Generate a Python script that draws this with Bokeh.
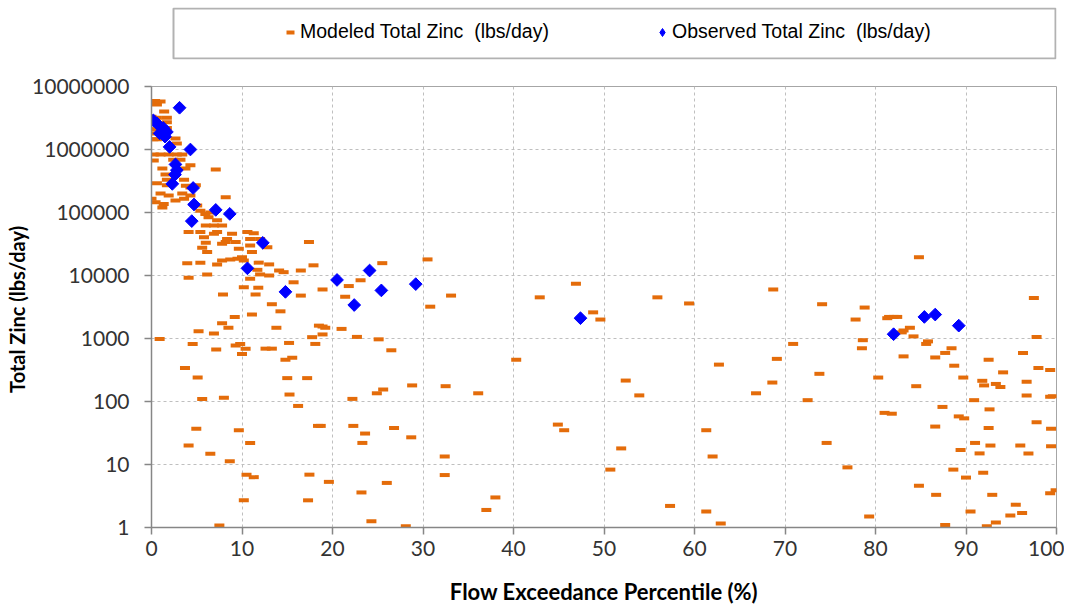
import math
from bokeh.plotting import figure
from bokeh.layouts import column
from bokeh.models import (Range1d, FixedTicker, NumeralTickFormatter, Legend, LegendItem,
                          BoxAnnotation)
from bokeh.embed import file_html
from bokeh.resources import INLINE

# ---------------- data ----------------
x_ticks = [0, 10, 20, 30, 40, 50, 60, 70, 80, 90, 100]
y_ticks = [1, 10, 100, 1000, 10000, 100000, 1000000, 10000000]

modeled_x = [
    0.4, 1.0, 0.6, 1.4, 0.0, 0.6, 1.7, 1.7, 0.0, 0.6, 1.7, 0.0,
    0.2, 0.6, 2.65, 2.8, 0.25, 1.0, 1.9, 2.8, 3.4, 0.25, 2.4, 3.2, 4.3,
    1.2, 3.75, 7.1, 1.55, 3.6, 1.7, 4.9, 1.7, 1.0, 3.4, 0.6, 3.8, 4.3,
    1.9, 2.65, 3.6, 4.3, 0.45, 1.35, 1.2, 0.0, 8.2,
    5.05, 5.4, 5.95, 6.5, 6.3, 7.25, 6.9, 6.0, 7.8,
    4.1, 5.4, 6.9, 7.25, 8.9, 10.6, 11.3,
    5.8, 8.35, 8.2, 9.3, 10.9, 12.0,
    6.0, 5.6, 6.15, 7.8, 9.65, 10.9, 11.1, 12.8,
    3.95, 5.4, 7.25, 7.8, 8.7, 9.5, 10.0, 10.2, 11.85, 13.0,
    6.15, 4.1, 10.9, 11.7, 12.0, 13.0, 14.1, 14.6, 15.7, 16.5,
    10.2, 11.8, 17.9, 17.4, 11.5, 7.9, 16.5,
    13.3, 14.25, 9.2, 11.1, 7.8, 8.5, 5.2, 6.9, 13.8, 18.5, 17.75,
    0.9, 4.55, 7.15, 9.3, 9.8, 10.4, 10.0, 12.6, 13.3, 15.2, 18.1,
    14.8, 15.55, 3.7, 5.1, 15.0, 17.2, 15.25, 5.6, 8.0,
    16.2, 18.4, 4.95, 9.65, 4.1, 10.9, 6.5, 8.65,
    10.5, 11.3, 17.45, 10.2, 17.3, 7.5,
    # 19 - 60 %
    25.5, 30.5, 18.9, 21.8, 23.1, 21.4, 33.1, 30.8, 42.9, 46.9, 48.8, 49.6, 55.9, 59.4,
    18.9, 19.2, 18.9, 21.0, 22.7, 25.1,
    26.5, 40.3, 52.4, 53.9,
    28.8, 32.5, 36.1, 24.9, 25.6, 22.2,
    18.7, 22.3, 23.6, 23.3, 26.8, 28.7, 44.9, 45.6, 51.9,
    32.4, 32.4, 50.7, 19.6, 26.0, 23.2, 38.0, 37.0, 57.3, 24.3, 28.1,
    # 60 - 100 %
    84.8, 68.7, 97.5, 74.1, 78.8, 77.8,
    81.5, 82.0, 82.4, 81.3,
    83.8, 83.1, 82.9, 84.2, 97.8,
    70.9, 78.6, 78.5, 85.8, 85.6, 88.4, 87.7, 86.6, 83.1, 96.3, 69.1, 92.5, 62.7, 88.7, 98.0, 99.3,
    73.8, 94.1, 80.3, 89.7, 91.8, 92.0, 93.3, 93.8, 96.7, 68.6, 84.5, 66.8, 96.7, 99.6, 99.3, 72.5, 90.9,
    87.4, 92.6, 81.0, 81.8, 89.2, 89.8, 97.8, 86.6, 92.5, 99.4, 61.3,
    74.6, 91.0, 92.7, 96.0, 99.4, 89.4, 91.5, 96.9, 62.0,
    76.9, 88.6, 91.9, 90.0, 84.8, 86.7, 92.9, 99.3, 99.9,
    95.5, 61.3, 90.5, 94.9, 96.2, 79.3, 62.9, 87.7, 92.3, 93.3,
]
modeled_y = [
    5.9e6, 5.8e6, 5.2e6, 4.0e6, 3.3e6, 3.2e6, 3.2e6, 2.7e6, 2.1e6, 2.1e6, 2.2e6, 1.8e6,
    1.45e6, 1.45e6, 1.5e6, 1.25e6, 8.3e5, 8.3e5, 8.3e5, 8.3e5, 8.3e5, 6.7e5, 6.9e5, 6.9e5, 5.6e5,
    5.0e5, 5.0e5, 4.8e5, 4.0e5, 3.3e5, 3.3e5, 2.7e5, 2.7e5, 2.0e5, 2.0e5, 2.9e5, 2.65e5, 2.5e5,
    1.86e5, 1.55e5, 1.65e5, 1.86e5, 1.46e5, 1.37e5, 1.2e5, 1.65e5, 1.75e5,
    1.29e5, 1.07e5, 9.5e4, 1.0e5, 8.4e4, 7.5e4, 6.2e4, 6.2e4, 6.2e4,
    4.9e4, 4.9e4, 4.6e4, 4.9e4, 4.6e4, 4.9e4, 4.7e4,
    4.05e4, 3.8e4, 3.4e4, 3.4e4, 3.8e4, 3.8e4,
    3.3e4, 2.75e4, 2.35e4, 3.2e4, 2.65e4, 3.0e4, 2.35e4, 2.8e4,
    1.57e4, 1.6e4, 1.5e4, 1.73e4, 1.8e4, 1.85e4, 1.95e4, 1.73e4, 1.6e4, 1.5e4,
    1.04e4, 9.2e3, 8.9e3, 1.23e4, 1.04e4, 1.0e4, 1.2e4, 1.13e4, 7.8e3, 1.2e4,
    6.5e3, 6.4e3, 1.45e4, 3.4e4, 5.0e3, 5.0e3, 4.8e3,
    3.5e3, 2.7e3, 2.2e3, 2.4e3, 1.75e3, 1.48e3, 1.3e3, 1.2e3, 1.48e3, 1.6e3, 1.05e3,
    980, 820, 670, 775, 820, 690, 570, 690, 690, 850, 820,
    460, 495, 340, 240, 235, 235, 129, 110, 115,
    85, 41, 37, 35, 20, 22, 14.8, 11.3,
    6.9, 6.3, 6.9, 2.7, 2.7, 1.08,
    # 19 - 60 %
    1.57e4, 1.8e4, 6.0e3, 6.8e3, 8.4e3, 4.6e3, 4.8e3, 3.2e3, 4.5e3, 7.4e3, 2.6e3, 2.0e3, 4.5e3, 3.6e3,
    1.55e3, 1.48e3, 1.16e3, 1.42e3, 1.06e3, 970,
    650, 460, 215, 125,
    180, 175, 135, 135, 155, 110,
    41, 41, 31, 22, 38, 27, 43, 35, 18,
    13.4, 6.8, 8.3, 5.3, 5.1, 3.6, 3.0, 1.9, 2.2, 1.26, 1.05,
    # 60 - 100 %
    1.95e4, 6.0e3, 4.4e3, 3.5e3, 3.1e3, 2.0e3,
    2.2e3, 2.2e3, 2.2e3, 2.1e3,
    1.48e3, 1.34e3, 1.25e3, 1.08e3, 1.06e3,
    820, 940, 700, 900, 820, 700, 590, 500, 520, 590, 475, 460, 385, 370, 340, 315,
    275, 290, 240, 240, 213, 180, 190, 170, 205, 200, 175, 135, 125, 121, 119, 105, 105,
    82, 75, 66, 64, 58, 54, 47, 40, 38, 37, 35,
    22, 22, 20, 20, 19.5, 17, 15, 15, 13.4,
    9.0, 8.3, 7.4, 6.2, 4.6, 3.3, 3.3, 3.5, 3.9,
    2.3, 1.8, 1.8, 1.55, 1.7, 1.5, 1.16, 1.1, 1.05, 1.2,
]

observed_x = [0.2, 0.6, 0.9, 1.3, 1.5, 1.7, 2.0, 3.1, 4.3, 2.65, 2.8, 2.6, 2.3, 4.6, 4.7,
              7.1, 8.65, 4.45, 12.3, 10.6, 14.8, 20.5, 24.1, 25.4, 22.4, 29.2, 47.4,
              82.0, 85.4, 86.6, 89.2]
observed_y = [2.9e6, 2.6e6, 1.8e6, 2.2e6, 1.6e6, 1.9e6, 1.1e6, 4.6e6, 1.0e6, 5.8e5, 4.7e5,
              4.0e5, 2.85e5, 2.45e5, 1.34e5, 1.1e5, 9.5e4, 7.3e4, 3.3e4, 1.3e4, 5.5e3,
              8.5e3, 1.2e4, 5.8e3, 3.4e3, 7.3e3, 2.1e3, 1.17e3, 2.2e3, 2.4e3, 1.6e3]

modeled_label = "Modeled Total Zinc  (lbs/day)"
observed_label = "Observed Total Zinc  (lbs/day)"
x_title = "Flow Exceedance Percentile (%)"
y_title = "Total Zinc  (lbs/day)"

# ---------------- styles ----------------
ORANGE = "#E46C0A"
BLUE = "#0000FF"
AXIS_GRAY = "#868686"
GRID_GRAY = "#BFBFBF"
TICK_FONT = "Lato"
LEGEND_FONT = "Liberation Sans"

FIG_W = 1064
LEFT = 151
RIGHT = 8

# ---------------- legend strip ----------------
lg = figure(width=FIG_W, height=70, x_range=Range1d(0, 905), y_range=Range1d(0, 52),
            toolbar_location=None, output_backend="svg",
            min_border_left=LEFT, min_border_right=RIGHT, min_border_top=7, min_border_bottom=11,
            x_axis_location=None, y_axis_location=None)
lg.xgrid.visible = False
lg.ygrid.visible = False
lg.outline_line_color = None
lg.background_fill_color = "white"
lg.border_fill_color = "white"
lg.add_layout(BoxAnnotation(left=22, right=904, bottom=1, top=51,
                            fill_alpha=0, line_color="black", line_width=2))

r_m = lg.scatter(x=[-100], y=[-100], marker="dash", size=10, line_width=4, line_color=ORANGE)
r_o = lg.scatter(x=[-100], y=[-100], marker="diamond", size=13,
                 fill_color=BLUE, line_color=BLUE)
legend = Legend(items=[LegendItem(label=modeled_label, renderers=[r_m]),
                       LegendItem(label=observed_label, renderers=[r_o])],
                orientation="horizontal", location=(129, 16),
                glyph_width=20, glyph_height=20, label_standoff=0, label_width=352,
                spacing=0, padding=0, margin=0,
                border_line_alpha=0, background_fill_alpha=0,
                label_text_font=LEGEND_FONT, label_text_font_size="19.5px",
                label_text_color="#000000")
lg.add_layout(legend)

# ---------------- main chart ----------------
p = figure(width=FIG_W, height=540, x_range=Range1d(0, 100), y_range=Range1d(1, 1e7),
           y_axis_type="log", toolbar_location=None, output_backend="svg",
           min_border_left=LEFT, min_border_right=RIGHT, min_border_top=16, min_border_bottom=83)
p.background_fill_color = "white"
p.border_fill_color = "white"
p.outline_line_color = "#A6A6A6"
p.outline_line_width = 1

p.scatter(modeled_x, modeled_y, marker="dash", size=10, line_width=4, line_color=ORANGE)
p.scatter(observed_x, observed_y, marker="square", angle=math.pi / 4, size=9,
          fill_color=BLUE, line_color=BLUE)

p.xaxis.ticker = FixedTicker(ticks=x_ticks)
p.yaxis.ticker = FixedTicker(ticks=y_ticks)
p.yaxis.formatter = NumeralTickFormatter(format="0")
p.xgrid.ticker = FixedTicker(ticks=x_ticks)
p.ygrid.ticker = FixedTicker(ticks=y_ticks)
for g in (p.xgrid, p.ygrid):
    g.grid_line_color = GRID_GRAY
    g.grid_line_dash = "3 3"
    g.grid_line_width = 1

for ax in (p.xaxis, p.yaxis):
    ax.axis_line_color = AXIS_GRAY
    ax.axis_line_width = 1.5
    ax.major_tick_line_color = AXIS_GRAY
    ax.major_tick_line_width = 1.5
    ax.major_tick_out = 7
    ax.major_tick_in = 0
    ax.minor_tick_out = 0
    ax.minor_tick_in = 0
    ax.major_label_text_font = TICK_FONT
    ax.major_label_text_font_size = "21px"
    ax.major_label_text_color = "#333333"
    ax.axis_label_text_font = TICK_FONT
    ax.axis_label_text_font_style = "bold"
    ax.axis_label_text_color = "#000000"

p.xaxis.axis_label = x_title
p.yaxis.axis_label = y_title
p.xaxis.axis_label_text_font_size = "22px"
p.yaxis.axis_label_text_font_size = "20px"
p.xaxis.major_label_standoff = 6
p.yaxis.major_label_standoff = 15
p.xaxis.axis_label_standoff = 19
p.yaxis.axis_label_standoff = 0

layout = column(lg, p, spacing=0)
open("out.html", "w").write(file_html(layout, INLINE))
